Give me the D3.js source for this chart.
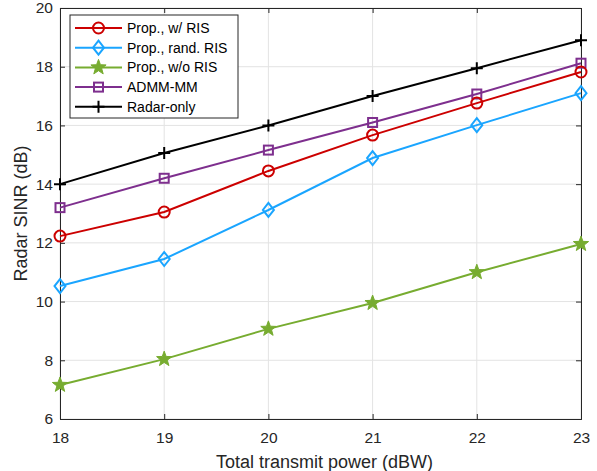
<!DOCTYPE html>
<html>
<head>
<meta charset="utf-8">
<script src="https://cdn.jsdelivr.net/npm/d3@7"></script>
<style>
  html, body { margin: 0; padding: 0; background: #fff; }
  svg { display: block; }
  text { font-family: "Liberation Sans", Arial, sans-serif; }
</style>
</head>
<body>
<svg id="chart" width="597" height="471"></svg>
<script>
// Transmit power sweep (dBW)
const powers = [18, 19, 20, 21, 22, 23];

// Radar SINR (dB) for each scheme
const sinrRadarOnly = [14.0, 15.06, 16.0, 17.0, 17.95, 18.9];
const sinrAdmmMm    = [13.2, 14.2, 15.16, 16.1, 17.07, 18.12];
const sinrPropRis   = [12.23, 13.05, 14.45, 15.67, 16.76, 17.82];
const sinrRandRis   = [10.53, 11.45, 13.12, 14.89, 16.01, 17.1];
const sinrNoRis     = [7.16, 8.04, 9.07, 9.95, 11.0, 11.96];

const xTicks = [18, 19, 20, 21, 22, 23];
const yTicks = [6, 8, 10, 12, 14, 16, 18, 20];

const series = [
  { name: "Prop., w/ RIS",     values: sinrPropRis, color: "#cc0000", marker: "circle" },
  { name: "Prop., rand. RIS",  values: sinrRandRis, color: "#1aa5ff", marker: "diamond" },
  { name: "Prop., w/o RIS",    values: sinrNoRis,   color: "#77ac30", marker: "star" },
  { name: "ADMM-MM",           values: sinrAdmmMm,  color: "#7e2f8e", marker: "square" },
  { name: "Radar-only",        values: sinrRadarOnly, color: "#000000", marker: "plus" }
];

const svg = d3.select("#chart");
const m = { left: 60, right: 16, top: 8, bottom: 52 };
const W = 597, H = 471;
const x = d3.scaleLinear().domain([18, 23]).range([m.left, W - m.right]);
const y = d3.scaleLinear().domain([6, 20]).range([H - m.bottom, m.top]);

// Grid
const grid = svg.append("g");
grid.selectAll(".gx").data(xTicks).join("line")
  .attr("x1", d => x(d)).attr("x2", d => x(d))
  .attr("y1", y(6)).attr("y2", y(20))
  .attr("stroke", "#e3e3e3").attr("stroke-width", 1);
grid.selectAll(".gy").data(yTicks).join("line")
  .attr("x1", x(18)).attr("x2", x(23))
  .attr("y1", d => y(d)).attr("y2", d => y(d))
  .attr("stroke", "#e3e3e3").attr("stroke-width", 1);

// Axes (ticks point inward, box on all four sides)
const axisColor = "#262626";
const tickLen = 5;
const xAxis = svg.append("g").attr("transform", `translate(0,${y(6)})`)
  .call(d3.axisBottom(x).tickValues(xTicks).tickSize(-tickLen).tickPadding(13).tickFormat(d3.format("d")));
const xAxisTop = svg.append("g").attr("transform", `translate(0,${y(20)})`)
  .call(d3.axisTop(x).tickValues(xTicks).tickSize(-tickLen).tickFormat(""));
const yAxis = svg.append("g").attr("transform", `translate(${x(18)},0)`)
  .call(d3.axisLeft(y).tickValues(yTicks).tickSize(-tickLen).tickPadding(7).tickFormat(d3.format("d")));
const yAxisRight = svg.append("g").attr("transform", `translate(${x(23)},0)`)
  .call(d3.axisRight(y).tickValues(yTicks).tickSize(-tickLen).tickFormat(""));

[xAxis, xAxisTop, yAxis, yAxisRight].forEach(a => {
  a.select(".domain").attr("stroke", axisColor).attr("stroke-width", 1);
  a.selectAll(".tick line").attr("stroke", axisColor);
  a.selectAll(".tick text").attr("fill", axisColor).style("font-size", "15.5px")
    .style("font-family", "'Liberation Sans', Arial, sans-serif");
});

// Axis titles
svg.append("text")
  .attr("x", (x(18) + x(23)) / 2 + 4).attr("y", 468)
  .attr("text-anchor", "middle").attr("fill", axisColor)
  .style("font-size", "18px").text("Total transmit power (dBW)");
svg.append("text")
  .attr("transform", `translate(27,${(y(6) + y(20)) / 2}) rotate(-90)`)
  .attr("text-anchor", "middle").attr("fill", axisColor)
  .style("font-size", "18px").text("Radar SINR (dB)");

// Marker drawing
function drawMarker(g, type, color) {
  if (type === "circle") {
    g.append("circle").attr("r", 5.5).attr("fill", "none").attr("stroke", color).attr("stroke-width", 2);
  } else if (type === "diamond") {
    g.append("path").attr("d", "M0,-7L5.5,0L0,7L-5.5,0Z").attr("fill", "none").attr("stroke", color).attr("stroke-width", 2);
  } else if (type === "star") {
    const pts = [];
    for (let i = 0; i < 10; i++) {
      const r = i % 2 === 0 ? 8 : 3.3;
      const a = -Math.PI / 2 + i * Math.PI / 5;
      pts.push([r * Math.cos(a), r * Math.sin(a)]);
    }
    g.append("path").attr("d", "M" + pts.map(p => p.join(",")).join("L") + "Z")
      .attr("fill", color).attr("stroke", color).attr("stroke-width", 1);
  } else if (type === "square") {
    g.append("rect").attr("x", -4.5).attr("y", -4.5).attr("width", 9).attr("height", 9)
      .attr("fill", "none").attr("stroke", color).attr("stroke-width", 2);
  } else if (type === "plus") {
    g.append("path").attr("d", "M-6,0H6M0,-6V6").attr("stroke", color).attr("stroke-width", 2);
  }
}

const line = d3.line().x((d, i) => x(powers[i])).y(d => y(d));

// Draw series in reverse so the first-listed appears on top
series.slice().reverse().forEach(s => {
  svg.append("path").datum(s.values)
    .attr("d", line).attr("fill", "none")
    .attr("stroke", s.color).attr("stroke-width", 2);
  s.values.forEach((v, i) => {
    const g = svg.append("g").attr("transform", `translate(${x(powers[i])},${y(v)})`);
    drawMarker(g, s.marker, s.color);
  });
});

// Legend
const lg = svg.append("g");
lg.append("rect").attr("x", 70).attr("y", 15).attr("width", 168).attr("height", 103)
  .attr("fill", "#fff").attr("stroke", axisColor).attr("stroke-width", 1);
series.forEach((s, i) => {
  const cy = 28 + i * 19.7;
  lg.append("line").attr("x1", 75).attr("x2", 122).attr("y1", cy).attr("y2", cy)
    .attr("stroke", s.color).attr("stroke-width", 2);
  const g = lg.append("g").attr("transform", `translate(98.5,${cy})`);
  drawMarker(g, s.marker, s.color);
  lg.append("text").attr("x", 127).attr("y", cy + 5).attr("fill", "#000")
    .style("font-size", "14px").text(s.name);
});
</script>
</body>
</html>
